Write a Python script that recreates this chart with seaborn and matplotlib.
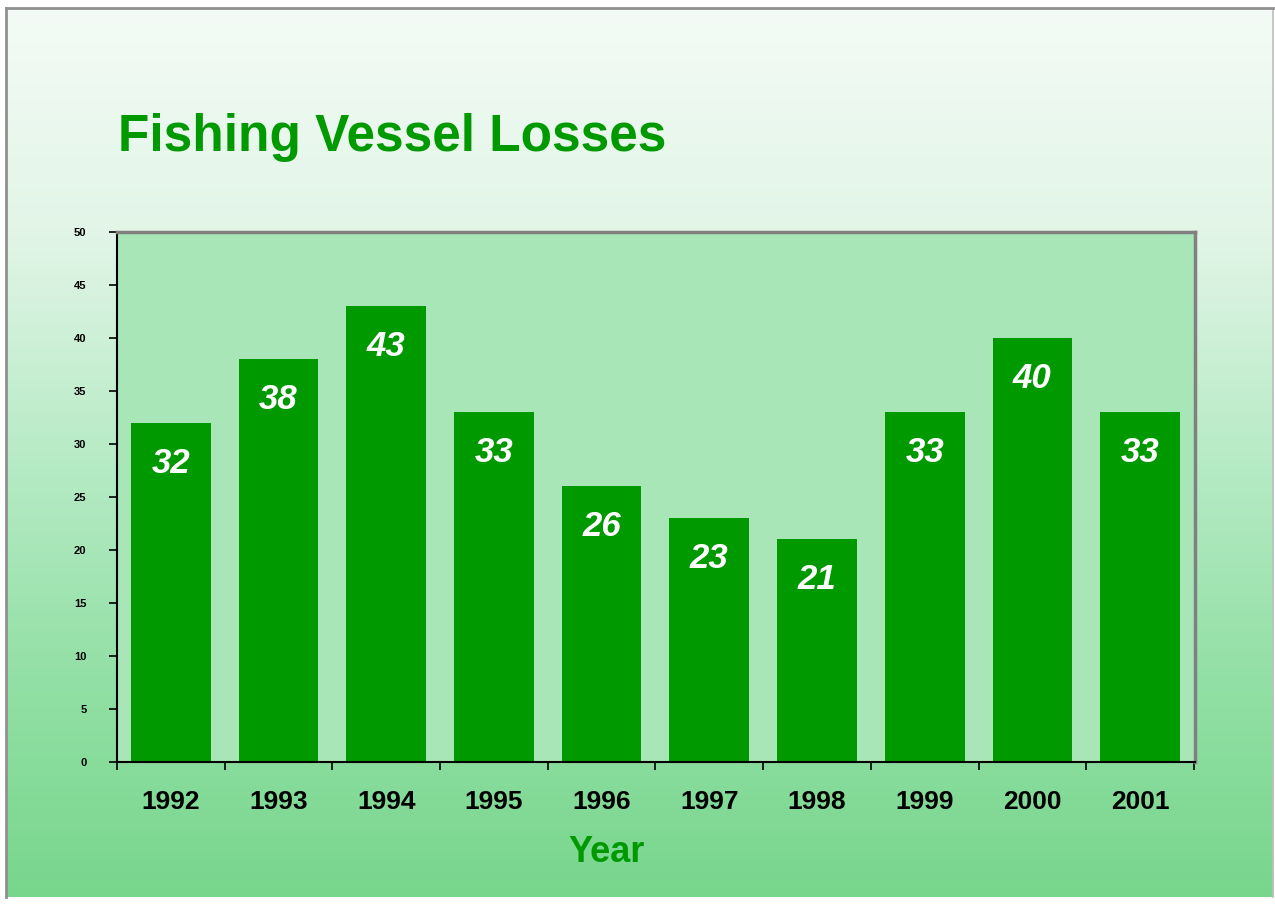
import numpy as np
import pandas as pd
import matplotlib
matplotlib.use("Agg")
import matplotlib.pyplot as plt
import seaborn as sns
from matplotlib.colors import LinearSegmentedColormap

years = ["1992", "1993", "1994", "1995", "1996", "1997", "1998", "1999", "2000", "2001"]
losses = [32, 38, 43, 33, 26, 23, 21, 33, 40, 33]
yticks = [0, 5, 10, 15, 20, 25, 30, 35, 40, 45, 50]

sns.set_theme(style="white")
plt.rcParams['font.family'] = ['Liberation Sans', 'DejaVu Sans']

W, H = 1275, 907
fig = plt.figure(figsize=(W / 100, H / 100), dpi=100)
fig.patch.set_facecolor("white")

# background gradient panel
bg = fig.add_axes([6 / W, (H - 897) / H, (1273 - 6) / W, (897 - 8) / H])
cmap = LinearSegmentedColormap.from_list("g", ["#f4fbf6", "#e2f5e7", "#b8ebc6", "#93e0a6", "#78d68c"])
grad = np.linspace(0, 1, 256).reshape(-1, 1)
bg.imshow(grad, aspect="auto", cmap=cmap, extent=[0, 1, 0, 1], origin="upper")
bg.set_xticks([]); bg.set_yticks([])
for s in ["left", "top"]:
    bg.spines[s].set_color("#909090"); bg.spines[s].set_linewidth(2)
bg.spines["bottom"].set_visible(False)
bg.spines["right"].set_color("#c0c0c0")

ax = fig.add_axes([117 / W, (H - 762) / H, (1195 - 117) / W, (762 - 232) / H])
df = pd.DataFrame({"Year": years, "Losses": losses})
sns.barplot(data=df, x="Year", y="Losses", color="#009900", saturation=1, width=0.74,
            linewidth=0, edgecolor="none", ax=ax)
ax.set_facecolor("#a8e6b8")
ax.set_ylim(0, 50)
ax.set_xlim(-0.49, 9.51)
ax.set_yticks(yticks)
ax.set_yticklabels([str(t) for t in yticks], fontsize=8, fontweight="bold", color="black")
ax.tick_params(axis="y", length=6, width=1.2, color="black", left=True, pad=16)
ax.tick_params(axis="x", length=6, width=1.2, color="black", bottom=True, pad=8)
ax.set_xticks(np.arange(-0.5, 9.6, 1), minor=False)
ax.set_xticklabels([])
ax.set_xticks(np.arange(10), minor=True)
ax.set_xticklabels(years, minor=True, fontsize=19, fontweight="bold", color="black")
ax.tick_params(axis="x", which="minor", length=0, pad=20)
ax.set_xlabel("Year", fontsize=26, fontweight="bold", color="#009900")
ax.xaxis.set_label_coords((607 - 117) / (1195 - 117), -(853 - 762) / (762 - 232))
ax.xaxis.label.set_va("center")
ax.set_ylabel("")
for s in ["left", "bottom"]:
    ax.spines[s].set_color("black"); ax.spines[s].set_linewidth(1.5)
for s in ["right", "top"]:
    ax.spines[s].set_color("#808080"); ax.spines[s].set_linewidth(2.5)

for i, v in enumerate(losses):
    ax.text(i, v - 3.8, str(v), ha="center", va="center", color="white",
            fontsize=25, fontweight="bold", fontstyle="italic")

fig.text(118 / W, 1 - 137 / H, "Fishing Vessel Losses", fontsize=37, fontweight="bold",
         color="#009900", ha="left", va="center")

fig.savefig("out.png", dpi=100)
